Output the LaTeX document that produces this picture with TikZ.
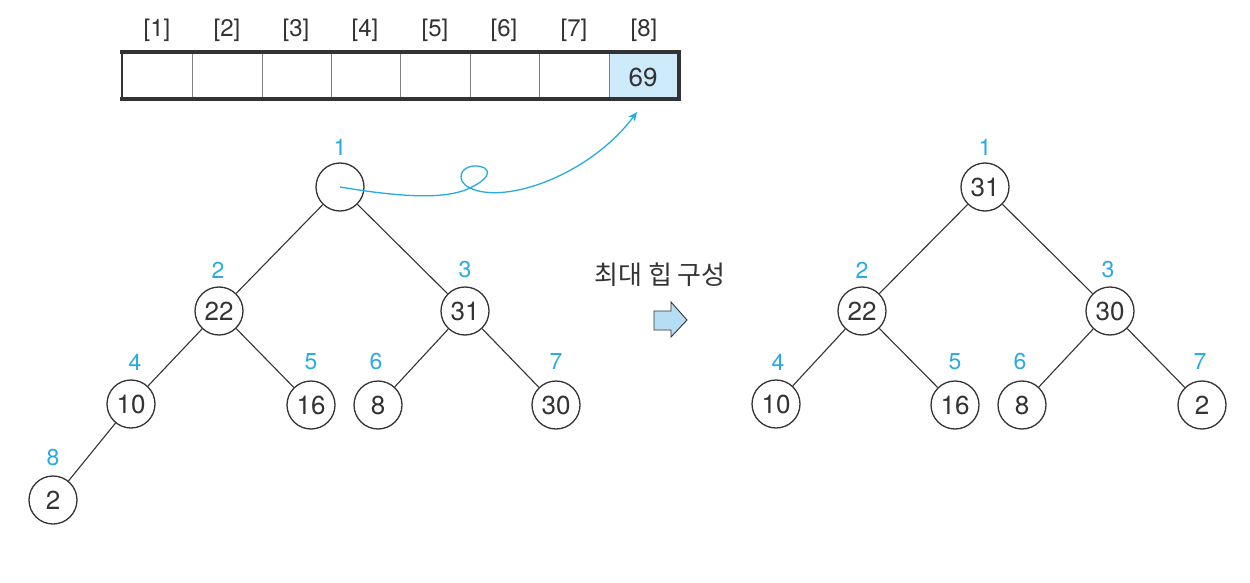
\documentclass[tikz,border=0pt]{standalone}
\usepackage{fontspec}
\setmainfont{TeX Gyre Heros}
\newfontfamily\kr{Noto Sans CJK KR}
\usetikzlibrary{arrows.meta}
\definecolor{cyanlab}{HTML}{29ABE2}
\definecolor{cellblue}{HTML}{CDEBFA}
\definecolor{arrblue}{HTML}{B5DEF5}
\definecolor{ink}{HTML}{333333}
\begin{document}
\begin{tikzpicture}[x=1pt,y=-1pt,
  hnode/.style={circle,draw=ink,line width=1.3pt,minimum size=48pt,inner sep=0pt,font=\fontsize{26}{28}\selectfont,text=ink},
  idx/.style={text=cyanlab,font=\fontsize{23}{25}\selectfont,inner sep=0pt},
  alab/.style={text=ink,font=\fontsize{24}{26}\selectfont,inner sep=0pt},
  edge/.style={draw=ink,line width=1.1pt}]
\useasboundingbox (0,0) rectangle (1250,583);
% array
\fill[cellblue] (609,52) rectangle (679,99);
\foreach \x in {192,262,331,400,470,539,609}
  \draw[gray,line width=1pt] (\x,52) -- (\x,99);
\draw[ink,line width=1.2pt] (122,52) -- (122,99);
\draw[ink,line width=3.5pt] (120,52) -- (681,52);
\draw[ink,line width=3.5pt] (120,99) -- (681,99);
\draw[ink,line width=3.5pt] (679,52) -- (679,99);
\node[alab] (c8) at (643,77) {\fontsize{26}{28}\selectfont 69};
\foreach \i/\x in {1/157,2/227,3/296,4/365,5/435,6/504,7/574,8/644}
  \node[alab] (a\i) at (\x,30) {[\i]};
\coordinate (tip) at (637,112);
% left tree
\node[hnode] (n1) at (340,187) {};
\node[hnode] (n2) at (219,311) {22};
\node[hnode] (n3) at (465,311) {31};
\node[hnode] (n4) at (131,404) {10};
\node[hnode] (n5) at (311,405) {16};
\node[hnode] (n6) at (378,405) {8};
\node[hnode] (n7) at (556,405) {30};
\node[hnode] (n8) at (53,500) {2};
\draw[edge] (n1) -- (n2); \draw[edge] (n1) -- (n3);
\draw[edge] (n2) -- (n4); \draw[edge] (n2) -- (n5);
\draw[edge] (n3) -- (n6); \draw[edge] (n3) -- (n7);
\draw[edge] (n4) -- (n8);
\node[idx] (l1) at (340,147) {1};
\node[idx] (l2) at (218,270) {2};
\node[idx] (l3) at (465,270) {3};
\node[idx] (l4) at (135,362) {4};
\node[idx] (l5) at (311,362) {5};
\node[idx] (l6) at (376,362) {6};
\node[idx] (l7) at (556,362) {7};
\node[idx] (l8) at (53,458) {8};
% blue curve
\draw[cyanlab,line width=1.3pt,-{Stealth[length=9pt,width=8pt]}]
  (n1.center) .. controls (400,197) and (445,200) .. (470,188)
  .. controls (495,176) and (490,166) .. (475,166)
  .. controls (460,166) and (455,181) .. (470,188)
  .. controls (505,205) and (590,175) .. (tip);
% middle
\node[text=ink,font=\kr\fontsize{26}{28}\selectfont,inner sep=0pt] (t) at (660,275) {최대 힙 구성};
\draw[ink,fill=arrblue,line width=0.9pt,line join=miter] (654,311) -- (671,311) -- (671,302) -- (687,320) -- (671,337) -- (671,330) -- (654,330) -- cycle;
% right tree
\node[hnode] (m1) at (985,187) {31};
\node[hnode] (m2) at (862,311) {22};
\node[hnode] (m3) at (1110,311) {30};
\node[hnode] (m4) at (776,404) {10};
\node[hnode] (m5) at (955,405) {16};
\node[hnode] (m6) at (1022,405) {8};
\node[hnode] (m7) at (1202,405) {2};
\draw[edge] (m1) -- (m2); \draw[edge] (m1) -- (m3);
\draw[edge] (m2) -- (m4); \draw[edge] (m2) -- (m5);
\draw[edge] (m3) -- (m6); \draw[edge] (m3) -- (m7);
\node[idx] (k1) at (985,147) {1};
\node[idx] (k2) at (862,270) {2};
\node[idx] (k3) at (1108,270) {3};
\node[idx] (k4) at (778,362) {4};
\node[idx] (k5) at (955,362) {5};
\node[idx] (k6) at (1020,362) {6};
\node[idx] (k7) at (1200,362) {7};
\end{tikzpicture}
\end{document}
